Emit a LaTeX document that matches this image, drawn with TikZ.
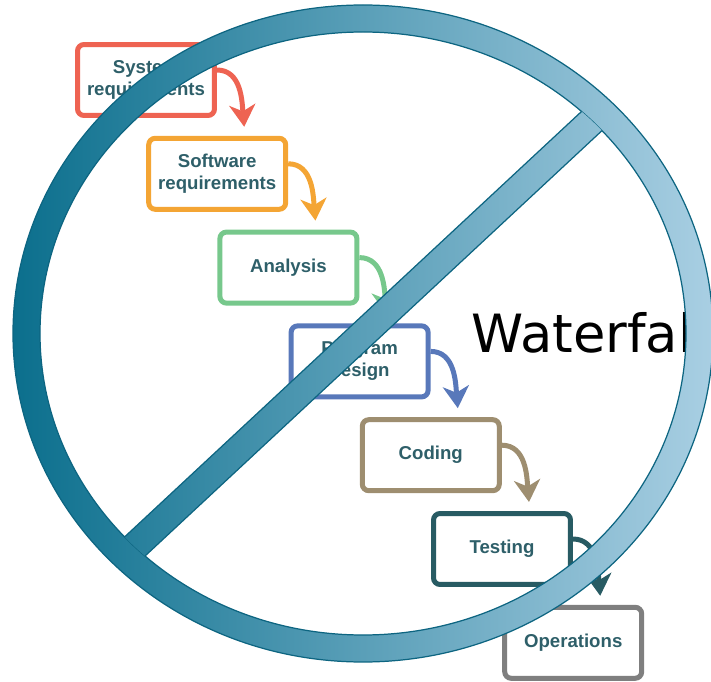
\documentclass[tikz,border=0pt]{standalone}
\usepackage{fontspec}
\setmainfont{Liberation Sans}
\newfontfamily\titlefont{DejaVu Sans}
\usepackage{xcolor}
\definecolor{wfRed}{HTML}{EE6352}
\definecolor{wfOrange}{HTML}{F4A534}
\definecolor{wfGreen}{HTML}{77C88C}
\definecolor{wfBlue}{HTML}{5878BA}
\definecolor{wfTan}{HTML}{9E8E70}
\definecolor{wfTeal}{HTML}{285B63}
\definecolor{wfGray}{HTML}{7F7F7F}
\definecolor{wfText}{HTML}{2E5F69}
\definecolor{ringDark}{HTML}{0B6F8D}
\definecolor{ringLight}{HTML}{A9CFE3}
\definecolor{ringEdge}{HTML}{0D6581}
\usetikzlibrary{arrows.meta, calc}

\begin{document}
\begin{tikzpicture}[
        x=0.02cm, y=-0.02cm,
        stage/.style={rectangle, rounded corners=0.13cm, draw, fill=white, line width=2.85pt, minimum width=2.74cm, minimum height=1.42cm, inner sep=0pt, align=center, text=wfText, font=\bfseries\fontsize{10.6}{12.5}\selectfont},
        flow/.style={-{Stealth[length=0.44cm, width=0.52cm, inset=0.13cm]}, line width=2.85pt},
        ring/.style={even odd rule, left color=ringDark, right color=ringLight},
    ]
        \useasboundingbox (0,0) rectangle (711,682);

        % Stages
        \node[stage, draw=wfRed]    (sysreq)     at (146,80)      {System\\requirements};
        \node[stage, draw=wfOrange] (swreq)      at (217.2,173.8) {Software\\requirements};
        \node[stage, draw=wfGreen]  (analysis)   at (288.4,267.6) {Analysis};
        \node[stage, draw=wfBlue]   (progdesign) at (359.6,361.4) {Program\\design};
        \node[stage, draw=wfTan]    (coding)     at (430.8,455.2) {Coding};
        \node[stage, draw=wfTeal]   (testing)    at (502,549)     {Testing};
        \node[stage, draw=wfGray]   (operations) at (573.2,642.8) {Operations};

        % Arrows: stage -> next stage
        \draw[flow, wfRed]    ($(sysreq.east)+(0,-10)$)     to[out=0, in=95] ($(swreq.north)+(27,-9)$);
        \draw[flow, wfOrange] ($(swreq.east)+(0,-10)$)      to[out=0, in=95] ($(analysis.north)+(27,-9)$);
        \draw[flow, wfGreen]  ($(analysis.east)+(0,-10)$)   to[out=0, in=95] ($(progdesign.north)+(27,-9)$);
        \draw[flow, wfBlue]   ($(progdesign.east)+(0,-10)$) to[out=0, in=95] ($(coding.north)+(27,-9)$);
        \draw[flow, wfTan]    ($(coding.east)+(0,-10)$)     to[out=0, in=95] ($(testing.north)+(27,-9)$);
        \draw[flow, wfTeal]   ($(testing.east)+(0,-10)$)    to[out=0, in=95] ($(operations.north)+(27,-9)$);

        % Title
        \node[anchor=base west, inner sep=0pt, font=\titlefont\fontsize{30}{35}\selectfont] (title) at (471,353) {Waterfal};

        % No sign: ring
        \shade[ring] (363,333.5) ellipse [x radius=350, y radius=328.5]
                     (363,333.5) ellipse [x radius=323, y radius=301.5];
        \draw[ringEdge, line width=0.7pt] (363,333.5) ellipse [x radius=350, y radius=328.5]
                     (363,333.5) ellipse [x radius=323, y radius=301.5];

        % No sign: bar
        \begin{scope}
            \clip (363,333.5) ellipse [x radius=323, y radius=301.5];
            \shadedraw[left color=ringDark!88!ringLight, right color=ringLight!88!ringDark, draw=ringEdge, line width=0.7pt]
                (114.0,584.9) -- (630.7,103.9) -- (611.7,83.4) -- (95.0,564.5) -- cycle;
        \end{scope}

    \end{tikzpicture}
\end{document}
